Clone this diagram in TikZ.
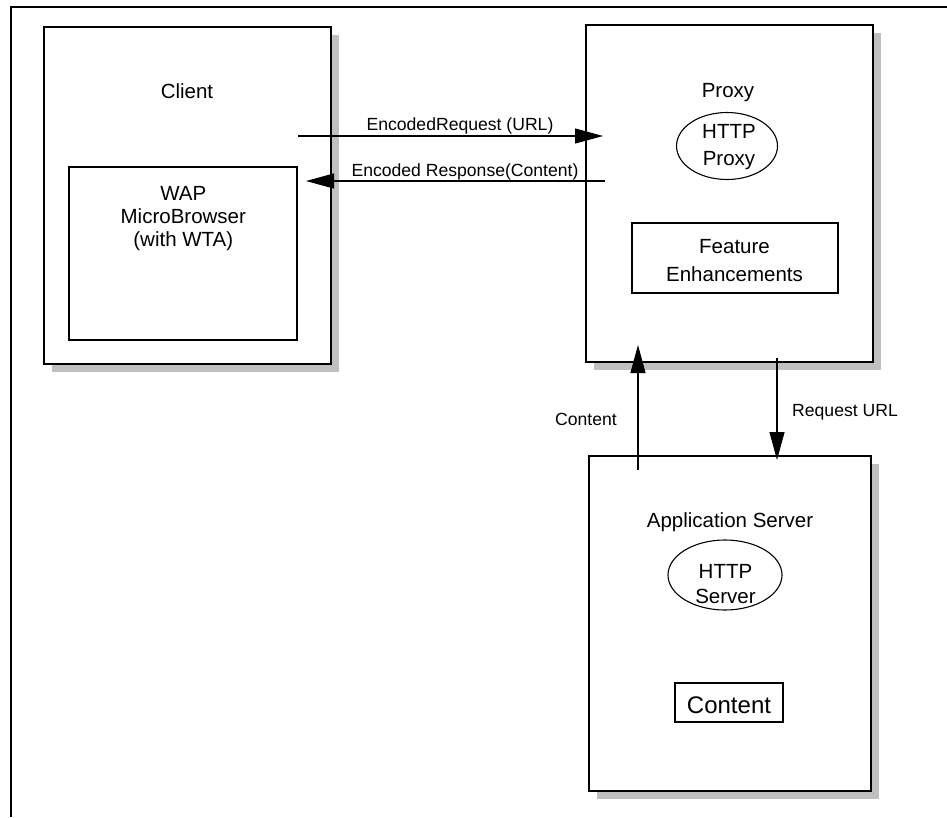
\documentclass[tikz,border=0pt]{standalone}
\usepackage{fontspec}
\setmainfont{Liberation Sans}
\usetikzlibrary{arrows.meta,shapes.geometric,shadows}
\definecolor{shadowgray}{HTML}{C0C0C0}
\begin{document}
\begin{tikzpicture}[x=1pt,y=-1pt,
  box/.style={draw=black, line width=1.6pt, fill=white, rectangle, inner sep=0pt,
    general shadow={fill=shadowgray, shadow xshift=8pt, shadow yshift=-8pt}},
  inbox/.style={draw=black, line width=1.1pt, fill=white, rectangle, inner sep=0pt},
  oval/.style={draw=black, line width=1.1pt, ellipse, inner sep=0pt},
  lbl/.style={inner sep=0pt, anchor=base},
  fbig/.style={font=\fontsize{20.5}{24}\selectfont},
  fsmall/.style={font=\fontsize{17.6}{21}\selectfont},
  fcont/.style={font=\fontsize{24}{28}\selectfont},
  arr/.style={line width=1.1pt, -{Triangle[length=28pt,width=15pt]}},
]
\useasboundingbox (0,0) rectangle (947,817);
% page frame (top and left rules)
\draw[line width=2pt] (947,7) -- (11,7) -- (11,817);

% Client
\node[box, minimum width=287pt, minimum height=337pt] (client) at (187.5,195.5) {};
\node[lbl, fbig] (clientlbl) at (187,98) {Client};
\node[inbox, minimum width=228pt, minimum height=173pt] (wap) at (183,253.5) {};
\node[lbl, fbig] (wap1) at (183.3,200.5) {WAP};
\node[lbl, fbig] (wap2) at (183.3,223.5) {MicroBrowser};
\node[lbl, fbig] (wap3) at (183.3,246.5) {(with WTA)};

% Proxy
\node[box, minimum width=287pt, minimum height=337pt] (proxy) at (729.5,193.5) {};
\node[lbl, fbig] (proxylbl) at (728,97) {Proxy};
\node[oval, minimum width=101pt, minimum height=67pt] (hproxy) at (727,146) {};
\node[lbl, fbig] (hp1) at (729,138.5) {HTTP};
\node[lbl, fbig] (hp2) at (729,165.5) {Proxy};
\node[inbox, minimum width=206pt, minimum height=70pt] (feat) at (735,258) {};
\node[lbl, fbig] (feat1) at (734.5,253.5) {Feature};
\node[lbl, fbig] (feat2) at (734.5,281.5) {Enhancements};

% Application server
\node[box, minimum width=282pt, minimum height=335pt] (app) at (730,623.5) {};
\node[lbl, fbig] (applbl) at (730,527) {Application Server};
\node[oval, minimum width=114pt, minimum height=70pt] (hserver) at (725,575) {};
\node[lbl, fbig] (hs1) at (725.5,578.5) {HTTP};
\node[lbl, fbig] (hs2) at (725.5,603.5) {Server};
\node[inbox, minimum width=108pt, minimum height=39pt] (contentbox) at (729,702.5) {};
\node[lbl, fcont] (contentlbl) at (729,713.5) {Content};

% connector ends
\coordinate (reqS) at (298,136);
\coordinate (reqE) at (603,136);
\coordinate (resS) at (605,181);
\coordinate (resE) at (306,181);
\coordinate (conS) at (638,470);
\coordinate (conE) at (638,345);
\coordinate (urlS) at (777,358);
\coordinate (urlE) at (777,460);

\draw[arr] (reqS) -- (reqE);
\draw[arr] (resS) -- (resE);
\draw[arr] (conS) -- (conE);
\draw[arr] (urlS) -- (urlE);

\node[lbl, fsmall] (reqlbl) at (460,130.5) {EncodedRequest (URL)};
\node[lbl, fsmall] (reslbl) at (465,176) {Encoded Response(Content)};
\node[lbl, fsmall] (conlbl) at (586,425) {Content};
\node[lbl, fsmall, anchor=base west] (urllbl) at (792,416) {Request URL};
\end{tikzpicture}
\end{document}
